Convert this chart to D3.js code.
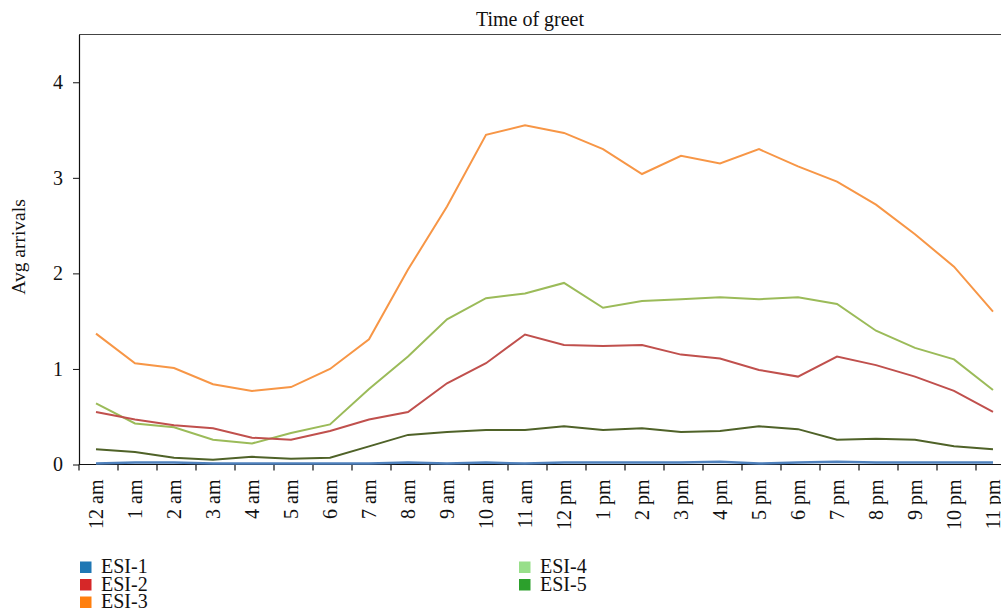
<!DOCTYPE html>
<html>
<head>
<meta charset="utf-8">
<script src="https://cdn.jsdelivr.net/npm/d3@7"></script>
<style>
  body { margin: 0; background: #fff; }
  text { font-family: "Liberation Serif", "DejaVu Serif", serif; fill: #111; }
</style>
</head>
<body>
<script>
const hours = ["12 am", "1 am", "2 am", "3 am", "4 am", "5 am", "6 am", "7 am", "8 am", "9 am", "10 am", "11 am",
  "12 pm", "1 pm", "2 pm", "3 pm", "4 pm", "5 pm", "6 pm", "7 pm", "8 pm", "9 pm", "10 pm", "11 pm"];
const esi1 = [0.01, 0.02, 0.02, 0.01, 0.01, 0.01, 0.01, 0.01, 0.02, 0.01, 0.02, 0.01, 0.02, 0.02, 0.02, 0.02, 0.03, 0.01, 0.02, 0.03, 0.02, 0.02, 0.02, 0.02];
const esi2 = [0.55, 0.47, 0.41, 0.38, 0.28, 0.26, 0.35, 0.47, 0.55, 0.85, 1.06, 1.36, 1.25, 1.24, 1.25, 1.15, 1.11, 0.99, 0.92, 1.13, 1.04, 0.92, 0.77, 0.55];
const esi3 = [1.37, 1.06, 1.01, 0.84, 0.77, 0.81, 1.00, 1.31, 2.04, 2.70, 3.45, 3.55, 3.47, 3.30, 3.04, 3.23, 3.15, 3.30, 3.12, 2.96, 2.72, 2.41, 2.07, 1.60];
const esi4 = [0.64, 0.43, 0.39, 0.26, 0.22, 0.33, 0.42, 0.79, 1.13, 1.52, 1.74, 1.79, 1.90, 1.64, 1.71, 1.73, 1.75, 1.73, 1.75, 1.68, 1.40, 1.22, 1.10, 0.78];
const esi5 = [0.16, 0.13, 0.07, 0.05, 0.08, 0.06, 0.07, 0.19, 0.31, 0.34, 0.36, 0.36, 0.40, 0.36, 0.38, 0.34, 0.35, 0.40, 0.37, 0.26, 0.27, 0.26, 0.19, 0.16];
const seriesNames = ["ESI-1", "ESI-2", "ESI-3", "ESI-4", "ESI-5"];
const yTicks = [0, 1, 2, 3, 4];

const series = [
  { name: "ESI-5", values: esi5, line: "#4f6228" },
  { name: "ESI-4", values: esi4, line: "#9bbb59" },
  { name: "ESI-2", values: esi2, line: "#c0504d" },
  { name: "ESI-3", values: esi3, line: "#f79646" },
  { name: "ESI-1", values: esi1, line: "#4f81bd" }
];
const legendColors = { "ESI-1": "#1f77b4", "ESI-2": "#d62728", "ESI-3": "#ff7f0e", "ESI-4": "#98df8a", "ESI-5": "#2ca02c" };

const W = 1001, H = 612;
const plot = { left: 79, top: 34.5, bottom: 464.5, right: 1001 };

const svg = d3.select("body").append("svg").attr("width", W).attr("height", H);

// point positions: one step of 39px, first point 17px right of the axis
const x = d3.scaleLinear().domain([0, 23]).range([96, 96 + 23 * 39]);
const y = d3.scaleLinear().domain([0, 4.5]).range([plot.bottom, plot.top]);

// frame: top line and left axis
svg.append("line").attr("x1", plot.left).attr("x2", plot.right).attr("y1", plot.top).attr("y2", plot.top)
  .attr("stroke", "#444").attr("stroke-width", 1.2);

const yAxis = d3.axisLeft(y).tickValues(yTicks).tickFormat(d3.format("d")).tickSize(6).tickSizeOuter(0);
const gy = svg.append("g").attr("transform", `translate(${plot.left},0)`).call(yAxis);
gy.select(".domain").attr("stroke", "#111").attr("stroke-width", 1.2);
gy.selectAll(".tick line").attr("stroke", "#111");
gy.selectAll(".tick text").attr("font-size", 20).attr("x", -16);

// x axis: ticks sit between categories, labels at points
svg.append("line").attr("x1", plot.left).attr("x2", plot.right).attr("y1", plot.bottom).attr("y2", plot.bottom)
  .attr("stroke", "#111").attr("stroke-width", 1.2);
svg.append("g").selectAll("line").data(d3.range(24)).join("line")
  .attr("x1", i => x(i) - 17).attr("x2", i => x(i) - 17)
  .attr("y1", plot.bottom).attr("y2", plot.bottom + 6)
  .attr("stroke", "#111").attr("stroke-width", 1.2);
svg.append("g").selectAll("text").data(hours).join("text")
  .attr("transform", (d, i) => `translate(${x(i) + 6.5},${plot.bottom + 15}) rotate(-90)`)
  .attr("text-anchor", "end")
  .attr("font-size", 20)
  .text(d => d);

// lines
const line = d3.line().x((d, i) => x(i)).y(d => y(d));
svg.append("g").selectAll("path").data(series).join("path")
  .attr("d", s => line(s.values))
  .attr("fill", "none")
  .attr("stroke", s => s.line)
  .attr("stroke-width", s => s.name === "ESI-1" ? 2.5 : 2);

// titles
svg.append("text").attr("x", 530).attr("y", 26).attr("text-anchor", "middle")
  .attr("font-size", 20).text("Time of greet");
svg.append("text").attr("transform", "translate(25,247) rotate(-90)").attr("text-anchor", "middle")
  .attr("font-size", 19.5).text("Avg arrivals");

// legend in two columns
const legend = svg.append("g");
const item = legend.selectAll("g").data(seriesNames).join("g")
  .attr("transform", (d, i) => `translate(${i < 3 ? 80 : 519},${561.5 + (i % 3) * 17.5})`);
item.append("rect").attr("width", 11.5).attr("height", 11.5).attr("fill", d => legendColors[d]);
item.append("text").attr("x", 21).attr("y", 11.5).attr("font-size", 20).text(d => d);
</script>
</body>
</html>
